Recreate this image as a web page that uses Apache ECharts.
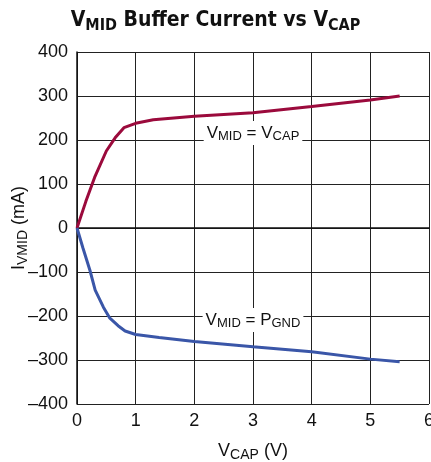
<!DOCTYPE html>
<html lang="en">

<head>
  <meta charset="UTF-8">
  <title>VMID Buffer Current vs VCAP</title>
  <script src="https://cdn.jsdelivr.net/npm/echarts@6/dist/echarts.min.js"></script>
</head>

<body style="margin:0">
  <div id="chart" style="width: 431px;height: 462px;"></div>
  <script>
    const myEcharts = echarts.init(document.getElementById('chart'))

    // V_MID = V_CAP 曲线 [VCAP (V), I (mA)]
    const vcapData = [
      [0, 0], [0.15, 60], [0.3, 115], [0.5, 175], [0.65, 205], [0.8, 228],
      [1.0, 238], [1.3, 246], [2, 254], [3, 262], [4, 276], [5, 291], [5.5, 300]
    ]
    // V_MID = P_GND 曲线
    const pgndData = [
      [0, 0], [0.1, -45], [0.22, -96], [0.31, -141], [0.45, -180], [0.56, -205],
      [0.7, -222], [0.82, -234], [1.0, -242], [1.4, -249], [2, -258], [3, -270],
      [4, -281], [5, -298], [5.5, -304]
    ]
    // 标注位置
    const vcapLabelAt = [3, 216]
    const pgndLabelAt = [3, -209]

    const font = '"DejaVu Sans Condensed", "Liberation Sans", sans-serif'
    const plainFont = '"Liberation Sans", sans-serif'
    const sub = (size, fam) => ({ fontSize: size, fontFamily: fam || plainFont, padding: [size * 0.55, 0, 0, 0], color: '#111' })

    const curveLabel = (text) => ({
      symbolSize: 0,
      label: {
        show: true,
        position: 'inside',
        formatter: text,
        fontFamily: plainFont,
        fontSize: 17,
        color: '#111',
        backgroundColor: '#fff',
        padding: [2, 3, 2, 3],
        rich: { s: sub(13) }
      }
    })

    const option = {
      animation: false,
      title: {
        text: 'V{s|MID} Buffer Current vs V{s|CAP}',
        left: 'center',
        top: 3,
        textStyle: {
          fontFamily: font,
          fontWeight: 'bold',
          fontSize: 21,
          color: '#111',
          rich: { s: { ...sub(16, font), fontWeight: 'bold', padding: [10, 0, 0, 0] } }
        }
      },
      grid: { left: 77, right: 2, top: 52, bottom: 58, outerBoundsMode: 'none' },
      xAxis: {
        type: 'value',
        min: 0,
        max: 6,
        interval: 1,
        name: 'V{s|CAP} (V)',
        nameLocation: 'middle',
        nameGap: 36,
        nameMoveOverlap: false,
        nameTextStyle: { fontFamily: plainFont, fontSize: 18, color: '#111', rich: { s: sub(14) } },
        axisLine: { lineStyle: { color: '#111', width: 1.5 } },
        axisTick: { show: false },
        axisLabel: { fontFamily: plainFont, fontSize: 18, color: '#111', margin: 8 },
        splitLine: { lineStyle: { color: '#222', width: 1 } }
      },
      yAxis: {
        type: 'value',
        min: -400,
        max: 400,
        interval: 100,
        name: 'I{s|VMID} (mA)',
        nameLocation: 'middle',
        nameRotate: 90,
        nameGap: 47,
        nameMoveOverlap: false,
        nameTextStyle: { fontFamily: plainFont, fontSize: 18, color: '#111', rich: { s: sub(14) } },
        axisLine: { lineStyle: { color: '#111', width: 1.5 } },
        axisTick: { show: false },
        axisLabel: {
          fontFamily: plainFont, fontSize: 18, color: '#111', margin: 9,
          formatter: (v) => v < 0 ? '\u2013' + Math.abs(v) : String(v)
        },
        splitLine: { lineStyle: { color: '#222', width: 1 } }
      },
      series: [
        {
          type: 'line',
          name: 'VCAP',
          data: vcapData,
          showSymbol: false,
          lineStyle: { color: '#9b0a3c', width: 3 },
          markPoint: { data: [{ coord: vcapLabelAt, ...curveLabel('V{s|MID} = V{s|CAP}') }] }
        },
        {
          type: 'line',
          name: 'PGND',
          data: pgndData,
          showSymbol: false,
          lineStyle: { color: '#3a56a8', width: 3 },
          markPoint: { data: [{ coord: pgndLabelAt, ...curveLabel('V{s|MID} = P{s|GND}') }] }
        }
      ]
    }

    myEcharts.setOption(option)
  </script>
</body>

</html>
